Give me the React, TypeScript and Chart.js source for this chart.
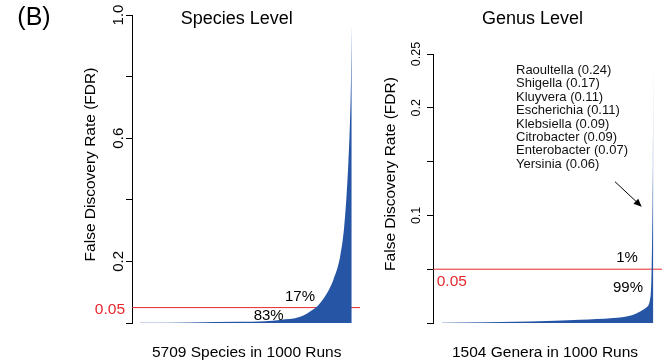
import React, { useEffect, useRef } from 'react';
import { Chart, registerables } from 'chart.js';

Chart.register(...registerables);

// ---- Data ----
// Sorted FDR curve, x = fraction of ranked taxa (0..1)
const speciesFrac = [0, 0.236, 0.472, 0.59, 0.661, 0.756, 0.819, 0.842, 0.882, 0.913, 0.945, 0.964, 0.976, 0.984, 0.992, 0.9967, 1.0];
const speciesFDR = [0.0005, 0.002, 0.004, 0.006, 0.01, 0.02, 0.045, 0.058, 0.096, 0.14, 0.215, 0.31, 0.42, 0.52, 0.66, 0.8, 0.97];

const genusFrac = [0, 0.417, 0.654, 0.81, 0.894, 0.94, 0.964, 0.987, 0.992, 0.9965, 0.998, 1.0];
const genusFDR = [0.0003, 0.0015, 0.003, 0.0046, 0.007, 0.011, 0.014, 0.025, 0.05, 0.114, 0.15, 0.24];

const threshold = 0.05;

const speciesTicks = [0, 0.2, 0.4, 0.6, 0.8, 1.0];
const speciesTickLabels = ['0.2', '0.6', '1.0'];
const genusTicks = [0, 0.05, 0.1, 0.15, 0.2, 0.25];
const genusTickLabels = ['0.1', '0.2', '0.25'];

const genusNames = ['Raoultella', 'Shigella', 'Kluyvera', 'Escherichia', 'Klebsiella', 'Citrobacter', 'Enterobacter', 'Yersinia'];
const genusTopFDR = ['0.24', '0.17', '0.11', '0.11', '0.09', '0.09', '0.07', '0.06'];

const speciesPercents = ['83%', '17%'];
const genusPercents = ['99%', '1%'];

const panelTitles = ['Species Level', 'Genus Level'];
const xTitles = ['5709 Species in 1000 Runs', '1504 Genera in 1000 Runs'];
const yTitle = 'False Discovery Rate (FDR)';
const panelTag = '(B)';

// ---- Styles ----
const FONT = '"Liberation Sans", Arial, Helvetica, sans-serif';
const BLUE = '#2755a5';
const RED = '#e5282e';

function rotatedText(ctx: CanvasRenderingContext2D, text: string, x: number, y: number, font: string, color = '#000') {
  ctx.save();
  ctx.translate(x, y);
  ctx.rotate(-Math.PI / 2);
  ctx.font = font;
  ctx.fillStyle = color;
  ctx.textAlign = 'center';
  ctx.textBaseline = 'middle';
  ctx.fillText(text, 0, 0);
  ctx.restore();
}

function text(ctx: CanvasRenderingContext2D, t: string, x: number, y: number, font: string, align: CanvasTextAlign = 'center', color = '#000', baseline: CanvasTextBaseline = 'alphabetic') {
  ctx.save();
  ctx.font = font;
  ctx.fillStyle = color;
  ctx.textAlign = align;
  ctx.textBaseline = baseline;
  ctx.fillText(t, x, y);
  ctx.restore();
}

type PanelProps = {
  left: number;
  width: number;
  frac: number[];
  fdr: number[];
  yMax: number;
  ticks: number[];
  xMin: number;
  xMax: number;
  axisWidth: number;
  padTop: number;
  padRight: number;
  draw: (chart: any) => void;
};

function Panel(p: PanelProps) {
  const ref = useRef<HTMLCanvasElement>(null);
  useEffect(() => {
    if (!ref.current) return;
    const pts = p.frac.map((f, i) => ({ x: f, y: p.fdr[i] }));
    const chart = new Chart(ref.current, {
      type: 'line',
      data: {
        datasets: [
          {
            data: pts,
            fill: 'origin',
            backgroundColor: BLUE,
            borderColor: BLUE,
            borderWidth: 0,
            pointRadius: 0,
            cubicInterpolationMode: 'monotone',
          },
          {
            data: [
              { x: p.xMin, y: threshold },
              { x: p.xMax, y: threshold },
            ],
            fill: false,
            borderColor: RED,
            borderWidth: 1,
            pointRadius: 0,
          },
        ],
      },
      options: {
        animation: false,
        responsive: false,
        devicePixelRatio: 1,
        layout: { padding: { top: p.padTop, bottom: 38, left: 0, right: p.padRight } },
        plugins: { legend: { display: false }, tooltip: { enabled: false }, title: { display: false } },
        scales: {
          x: { type: 'linear', min: p.xMin, max: p.xMax, display: false },
          y: {
            type: 'linear',
            min: 0,
            max: p.yMax,
            afterFit: (s: any) => {
              s.width = p.axisWidth;
            },
            afterBuildTicks: (s: any) => {
              s.ticks = p.ticks.map((v) => ({ value: v }));
            },
            ticks: { display: false },
            grid: { display: true, drawOnChartArea: false, drawTicks: true, tickLength: 6, color: '#000', lineWidth: 1 },
            border: { display: true, color: '#000', width: 1 },
          },
        },
      },
      plugins: [{ id: 'panelText', afterDraw: (c: any) => p.draw(c) }],
    } as any);
    return () => chart.destroy();
  }, []);
  return (
    <canvas
      ref={ref}
      width={p.width}
      height={361}
      style={{ position: 'absolute', left: p.left, top: 0, width: p.width, height: 361 }}
    />
  );
}

export default function App() {
  const drawSpecies = (c: any) => {
    const ctx: CanvasRenderingContext2D = c.ctx;
    const y = c.scales.y;
    text(ctx, panelTag, 34, 25, `25px ${FONT}`);
    text(ctx, panelTitles[0], 236.7, 23.5, `18px ${FONT}`);
    text(ctx, xTitles[0], 246.7, 356.5, `15.5px ${FONT}`);
    rotatedText(ctx, yTitle, 90.5, 164.5, `15.5px ${FONT}`);
    speciesTickLabels.forEach((l) => rotatedText(ctx, l, 119, y.getPixelForValue(parseFloat(l)), `15px ${FONT}`));
    const ty = y.getPixelForValue(threshold);
    text(ctx, '0.05', 125, ty + 6, `15.5px ${FONT}`, 'right', RED);
    text(ctx, speciesPercents[1], 300, ty - 6.5, `15px ${FONT}`);
    text(ctx, speciesPercents[0], 268.7, ty + 12, `15px ${FONT}`);
  };

  const OFF = 362;
  const drawGenus = (c: any) => {
    const ctx: CanvasRenderingContext2D = c.ctx;
    const y = c.scales.y;
    text(ctx, panelTitles[1], 532.5 - OFF, 23.5, `18px ${FONT}`);
    text(ctx, xTitles[1], 545 - OFF, 356.5, `15.5px ${FONT}`);
    rotatedText(ctx, yTitle, 390.5 - OFF, 174, `15.5px ${FONT}`);
    genusTickLabels.forEach((l) => rotatedText(ctx, l, 417 - OFF, y.getPixelForValue(parseFloat(l)), `12.5px ${FONT}`));
    const ty = y.getPixelForValue(threshold);
    text(ctx, '0.05', 436.7 - OFF, ty + 16.5, `15.5px ${FONT}`, 'left', RED);
    text(ctx, genusPercents[1], 627 - OFF, ty - 7, `15px ${FONT}`);
    text(ctx, genusPercents[0], 628 - OFF, ty + 23, `15px ${FONT}`);
    genusNames.forEach((n, i) => {
      text(ctx, `${n} (${genusTopFDR[i]})`, 516 - OFF, 70.5 + i * 13.4, `13px ${FONT}`, 'left', '#111', 'middle');
    });
    // arrow
    const x1 = 615 - OFF, y1 = 181.7, x2 = 641.7 - OFF, y2 = 206.7;
    const ang = Math.atan2(y2 - y1, x2 - x1);
    ctx.save();
    ctx.strokeStyle = '#000';
    ctx.fillStyle = '#000';
    ctx.lineWidth = 1;
    ctx.beginPath();
    ctx.moveTo(x1, y1);
    ctx.lineTo(x2 - 6 * Math.cos(ang), y2 - 6 * Math.sin(ang));
    ctx.stroke();
    ctx.beginPath();
    ctx.moveTo(x2, y2);
    ctx.lineTo(x2 - 8 * Math.cos(ang) + 3.5 * Math.sin(ang), y2 - 8 * Math.sin(ang) - 3.5 * Math.cos(ang));
    ctx.lineTo(x2 - 8 * Math.cos(ang) - 3.5 * Math.sin(ang), y2 - 8 * Math.sin(ang) + 3.5 * Math.cos(ang));
    ctx.closePath();
    ctx.fill();
    ctx.restore();
  };

  return (
    <div style={{ position: 'fixed', left: 0, top: 0, width: 669, height: 361, background: '#fff' }}>
      <Panel
        left={0}
        width={362}
        frac={speciesFrac}
        fdr={speciesFDR}
        yMax={1}
        ticks={speciesTicks}
        xMin={-0.038}
        xMax={1.039}
        axisWidth={132}
        padTop={15}
        padRight={2}
        draw={drawSpecies}
      />
      <Panel
        left={362}
        width={307}
        frac={genusFrac}
        fdr={genusFDR}
        yMax={0.25}
        ticks={genusTicks}
        xMin={-0.041}
        xMax={1.041}
        axisWidth={71}
        padTop={54}
        padRight={7}
        draw={drawGenus}
      />
    </div>
  );
}
